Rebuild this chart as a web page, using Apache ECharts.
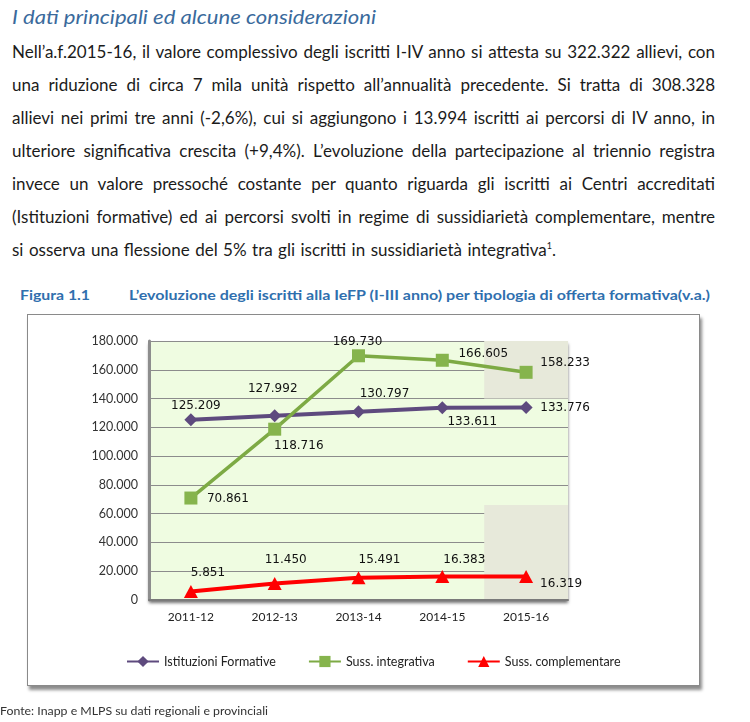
<!DOCTYPE html>
<html>
<head>
<meta charset="utf-8">
<script src="https://cdn.jsdelivr.net/npm/echarts@6/dist/echarts.min.js"></script>
<style>
  html, body { margin:0; padding:0; background:#fff; width:750px; height:722px; overflow:hidden; position:relative; font-family: Lato, "Open Sans", sans-serif; }
  .abs { position:absolute; white-space:nowrap; }
  #title { left:12px; top:4px; font-size:20px; line-height:24px; font-style:italic; color:#3A6A9C; }
  .pl { position:absolute; left:12px; font-size:17px; line-height:33px; color:#1b1b1b; white-space:nowrap; }
  .pl span { display:inline-block; transform-origin:0 50%; }
  sup { font-size:9px; line-height:0; vertical-align: 7px; }
  #fig { left:20px; top:285px; font-size:14px; line-height:20px; font-weight:bold; color:#2F6FAE; }
  #cap { left:129px; top:285px; font-size:14px; line-height:20px; font-weight:bold; color:#2F6FAE; }
  #frame { position:absolute; left:27px; top:314px; width:671px; height:370px; border:1px solid #8a8a8a; background:#fff; box-shadow: 2px 4px 3px rgba(0,0,0,0.45); }
  #chart { position:absolute; left:0; top:0; width:750px; height:722px; }
  #foot { left:0px; top:704px; font-size:10.5px; line-height:14px; color:#333; }
  .fit { display:inline-block; transform-origin:0 50%; }
</style>
</head>
<body>
<div id="title" class="abs"><span class="fit" data-w="364">I dati principali ed alcune considerazioni</span></div>
<div class="pl" style="top:35px"><span data-w="703" data-j="1">Nell’a.f.2015-16, il valore complessivo degli iscritti I-IV anno si attesta su 322.322 allievi, con</span></div>
<div class="pl" style="top:68px"><span data-w="703" data-j="1">una riduzione di circa 7 mila unità rispetto all’annualità precedente. Si tratta di 308.328</span></div>
<div class="pl" style="top:101px"><span data-w="703" data-j="1">allievi nei primi tre anni (-2,6%), cui si aggiungono i 13.994 iscritti ai percorsi di IV anno, in</span></div>
<div class="pl" style="top:134px"><span data-w="703" data-j="1">ulteriore significativa crescita (+9,4%). L’evoluzione della partecipazione al triennio registra</span></div>
<div class="pl" style="top:167px"><span data-w="703" data-j="1">invece un valore pressoché costante per quanto riguarda gli iscritti ai Centri accreditati</span></div>
<div class="pl" style="top:200px"><span data-w="703" data-j="1">(Istituzioni formative) ed ai percorsi svolti in regime di sussidiarietà complementare, mentre</span></div>
<div class="pl" style="top:233px"><span data-w="544" data-j="1">si osserva una flessione del 5% tra gli iscritti in sussidiarietà integrativa<sup>1</sup>.</span></div>
<div id="fig" class="abs"><span class="fit" data-w="70">Figura 1.1</span></div>
<div id="cap" class="abs"><span class="fit" data-w="581">L’evoluzione degli iscritti alla IeFP (I-III anno) per tipologia di offerta formativa(v.a.)</span></div>
<div id="frame"></div>
<div id="chart"></div>
<div id="foot" class="abs"><span class="fit" data-w="268">Fonte: Inapp e MLPS su dati regionali e provinciali</span></div>
<script>
// ---- data ----
const categories = ['2011-12', '2012-13', '2013-14', '2014-15', '2015-16'];
const seriesNames = ['Istituzioni Formative', 'Suss. integrativa', 'Suss. complementare'];
const istituzioni = [125209, 127992, 130797, 133611, 133776];
const integrativa = [70861, 118716, 169730, 166605, 158233];
const complementare = [5851, 11450, 15491, 16383, 16319];
const yMin = 0, yMax = 180000, yStep = 20000;
// shaded zones of the last band (value ranges)
const shadeRanges = [[140000, 180000], [0, 66000]];

// ---- layout (label offsets in px, not data) ----
const offIst = [[5, -14], [-2, -27], [26, -18], [30, 14], [39, 0]];
const offInt = [[37, 1], [24, 17], [-1, -14], [41, -6], [39, -9]];
const offCom = [[17, -19], [11, -24], [21, -18], [22, -17], [35, 7]];

// fit text widths
document.querySelectorAll('[data-w]').forEach(el => {
  el.style.display = 'inline-block';
  const target = +el.dataset.w;
  const w = el.getBoundingClientRect().width;
  if (el.dataset.j && w < target) {
    const spaces = (el.textContent.match(/ /g) || []).length;
    el.style.wordSpacing = ((target - w) / spaces) + 'px';
  } else {
    el.style.transformOrigin = '0 50%';
    el.style.transform = 'scaleX(' + (target / w) + ')';
  }
});

const fmt = v => String(v).replace(/\B(?=(\d{3})+(?!\d))/g, '.');
const mk = (arr, offs) => arr.map((v, i) => ({ value: v, label: { offset: offs[i] } }));
const lbl = { show: true, position: 'inside', fontFamily: 'DejaVu Sans', fontSize: 12, color: '#111', formatter: p => fmt(p.value) };

const chart = echarts.init(document.getElementById('chart'), null, { renderer: 'canvas' });
chart.setOption({
  animation: false,
  grid: { left: 149, top: 341, width: 419, height: 259, show: true, backgroundColor: '#EFFCE1', borderWidth: 0,
          shadowColor: 'rgba(0,0,0,0.55)', shadowBlur: 3, shadowOffsetY: 3, shadowOffsetX: 0, z: 0 },
  legend: {
    data: seriesNames, left: 121, top: 650, itemWidth: 32, itemHeight: 14, itemGap: 32,
    textStyle: { fontFamily: 'Lato', fontSize: 12.5, color: '#222' }
  },
  xAxis: [{
    type: 'category', data: categories, boundaryGap: true,
    axisLine: { lineStyle: { color: '#7a7a7a', width: 2 } },
    axisTick: { show: false },
    axisLabel: { fontFamily: 'Lato', fontSize: 12, color: '#222', margin: 11 },
    z: 1
  }, {
    type: 'value', min: 0, max: 5, show: false
  }],
  yAxis: {
    type: 'value', min: yMin, max: yMax, interval: yStep,
    axisLine: { show: true, lineStyle: { color: '#8d8d8d', width: 3 } },
    axisTick: { show: false },
    splitLine: { lineStyle: { color: '#8c8c8c', width: 1 } },
    axisLabel: { fontFamily: 'Lato', fontSize: 12.5, color: '#333', margin: 11, formatter: v => fmt(v) },
    z: 1
  },
  series: [
    { type: 'line', xAxisIndex: 1, data: [], z: 0.5, silent: true,
      markArea: { silent: true, itemStyle: { color: '#E7E9DA' },
        data: shadeRanges.map(r => [{ coord: [4, r[0]] }, { coord: [5, r[1]] }]) } },
    { name: seriesNames[0], type: 'line', data: mk(istituzioni, offIst), z: 3,
      symbol: 'diamond', symbolSize: 13, color: '#5E4A7E',
      lineStyle: { width: 4, color: '#5E4A7E' }, itemStyle: { color: '#5E4A7E' }, label: lbl },
    { name: seriesNames[1], type: 'line', data: mk(integrativa, offInt), z: 3,
      symbol: 'rect', symbolSize: 13, color: '#7DAA44',
      lineStyle: { width: 3.5, color: '#7DAA44' }, itemStyle: { color: '#86B44D' }, label: lbl },
    { name: seriesNames[2], type: 'line', data: mk(complementare, offCom), z: 3,
      symbol: 'triangle', symbolSize: [14, 13], color: '#FF0000',
      lineStyle: { width: 4, color: '#FF0000' }, itemStyle: { color: '#FF0000' }, label: lbl }
  ]
});
</script>
</body>
</html>
